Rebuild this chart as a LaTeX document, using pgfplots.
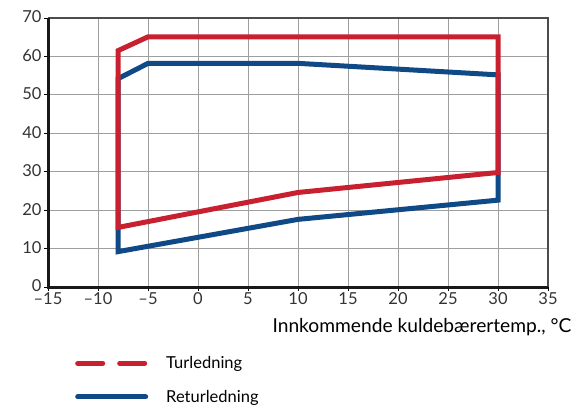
\documentclass[border=0pt]{standalone}
\usepackage{fontspec}
\setmainfont{Lato}
\usepackage{pgfplots}
\pgfplotsset{compat=1.18}
\definecolor{redline}{HTML}{C8202F}
\definecolor{blueline}{HTML}{0F4A87}
\definecolor{txt}{HTML}{333333}
\begin{document}
\begin{tikzpicture}[x=1pt,y=1pt]
\useasboundingbox (0,0) rectangle (586,408);
\begin{axis}[
  at={(48pt,121pt)}, anchor=south west,
  width=500pt, height=269pt, scale only axis,
  xmin=-15, xmax=35, ymin=0, ymax=70,
  xtick={-15,-10,...,35}, ytick={0,10,...,70},
  xticklabels={--15,--10,--5,0,5,10,15,20,25,30,35},
  grid=major, major grid style={draw=gray!75, line width=1pt},
  axis line style={draw=none},
  xtick pos=bottom, ytick pos=left, tick align=outside,
  major tick length=4pt, tick style={black, line width=1pt},
  tick label style={font=\fontsize{16.5}{16.5}\selectfont, text=txt},
  /pgf/number format/assume math mode=true,
  xticklabel style={yshift=0pt, inner ysep=1pt},
  yticklabel style={xshift=1pt, yshift=1pt, inner ysep=1pt},
  xlabel={Innkommende kuldebærertemp., °C},
  xlabel style={at={(axis description cs:1.054,-0.149)}, anchor=east, font=\fontsize{19.2}{19.2}\selectfont, text=black},
  legend style={at={(axis description cs:0.054,-0.25)}, anchor=north west, draw=none, fill=none,
    font=\fontsize{16.5}{16.5}\selectfont, row sep=16pt, inner sep=0pt,
    /tikz/every odd column/.append style={column sep=16pt}},
  legend cell align=left,
  reverse legend,
  clip=false,
]
\addplot[blueline, line width=5pt, line join=miter, forget plot] coordinates {
  (-8,9.2) (-8,54.2) (-5,58.2) (10,58.2) (30,55.2) (30,22.6) (10,17.6) (-8,9.2)} -- cycle;
\addplot[redline, line width=5pt, line join=miter, forget plot] coordinates {
  (-8,15.5) (-8,61.5) (-5,65.1) (30,65.1) (30,29.8) (10,24.6) (-8,15.5)} -- cycle;
\addlegendimage{legend image code/.code={\draw[blueline, line width=5pt, line cap=round] (2.5pt,0pt) -- (70.5pt,0pt);}}
\addlegendentry{Returledning}
\addlegendimage{legend image code/.code={\draw[redline, line width=5pt, line cap=round, dash pattern=on 25pt off 17pt] (2.5pt,0pt) -- (69.5pt,0pt);}}
\addlegendentry{Turledning}
\draw[black!70, line width=2.5pt] (rel axis cs:0,1) -- (rel axis cs:1,1) -- (rel axis cs:1,0);
\draw[black!90, line width=3pt] (rel axis cs:0,1) -- (rel axis cs:0,0) -- (rel axis cs:1,0);
\end{axis}
\end{tikzpicture}
\end{document}
